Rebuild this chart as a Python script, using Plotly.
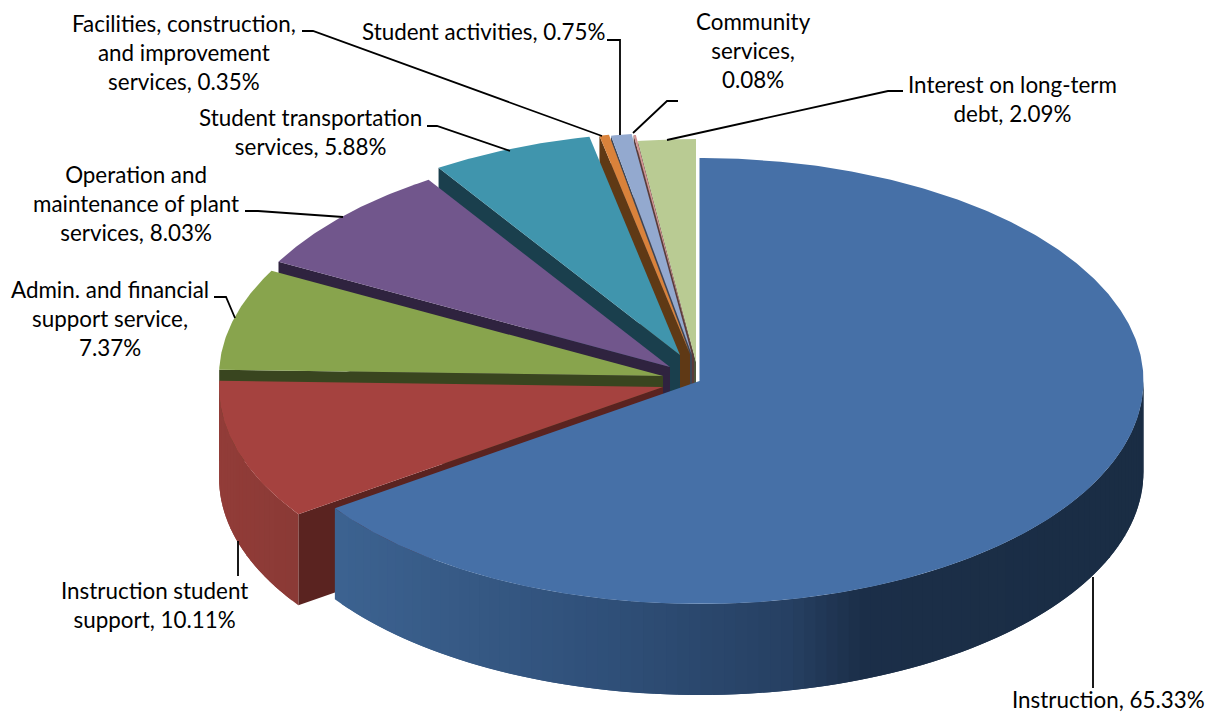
import math
import plotly.graph_objects as go

# ---- data ----
categories = ["Instruction", "Instruction student support", "Admin. and financial support service",
              "Operation and maintenance of plant services", "Student transportation services",
              "Facilities, construction, and improvement services", "Student activities",
              "Community services", "Interest on long-term debt"]
values = [65.33, 10.11, 7.37, 8.03, 5.88, 0.35, 0.75, 0.08, 2.09]
label_text = ["Instruction, 65.33%", "Instruction student<br>support, 10.11%",
              "Admin. and financial<br>support service,<br>7.37%",
              "Operation and<br>maintenance of plant<br>services, 8.03%",
              "Student transportation<br>services, 5.88%",
              "Facilities, construction,<br>and improvement<br>services, 0.35%",
              "Student activities, 0.75%", "Community<br>services,<br>0.08%",
              "Interest on long-term<br>debt, 2.09%"]

# ---- styles and layout ----
top_colors = ["#4670A7", "#A5423F", "#88A44D", "#71568C", "#4095AD", "#D9823B", "#93A9CF", "#D19392", "#B9CB93"]
edge_colors = ["#1F3552", "#5A2320", "#39451F", "#2F233F", "#1A3F4D", "#5F3915", "#3C4657", "#5A3B3A", "#4D553D"]
apex = [(699.5, 381), (663, 387), (663, 376), (670, 367), (680, 355), (690, 354), (692, 355), (694, 356), (696, 362)]
label_pos = [(1108, 699), (154, 605), (110, 318), (136, 203), (310, 132), (184, 52), (483, 31), (753, 50), (1012, 99)]
leaders = [
    [(1093, 577), (1093, 688)],
    [(238, 541), (238, 576)],
    [(214, 297), (226, 297), (235, 318)],
    [(245, 211), (258, 211), (343, 217)],
    [(427, 126), (437, 126), (510, 151)],
    [(302, 31), (313, 31), (602, 136)],
    [(607, 40), (620, 40), (620, 135)],
    [(678, 101), (667, 101), (633, 133)],
    [(903, 91), (888, 91), (667, 140)],
]
RX, RY, DEPTH = 444, 223, 91
blue_stops = [(333, (60, 98, 144)), (600, (47, 79, 120)), (780, (38, 64, 98)), (850, (27, 46, 72)), (1143, (26, 45, 68))]
red_stops = [(219, (146, 60, 56)), (299, (139, 58, 54))]


def pt(c, deg, dz=0.0):
    a = math.radians(deg)
    return c[0] + RX * math.sin(a), c[1] - RY * math.cos(a) + dz


def arc(c, a, b, dz=0.0, step=1.0):
    n = max(2, int(abs(b - a) / step) + 1)
    return [pt(c, a + (b - a) * i / (n - 1), dz) for i in range(n)]


def ramp(stops, x):
    if x <= stops[0][0]:
        return stops[0][1]
    for (x0, c0), (x1, c1) in zip(stops, stops[1:]):
        if x <= x1:
            t = (x - x0) / (x1 - x0)
            return tuple(c0[i] + (c1[i] - c0[i]) * t for i in range(3))
    return stops[-1][1]


fig = go.Figure()


def poly(points, color, line=0.0):
    xs = [p[0] for p in points] + [points[0][0]]
    ys = [p[1] for p in points] + [points[0][1]]
    fig.add_trace(go.Scatter(x=xs, y=ys, mode="lines", fill="toself", fillcolor=color,
                             line=dict(color=color, width=line), hoverinfo="skip", showlegend=False))


total = sum(values)
starts, acc = [], 0.0
for v in values:
    starts.append(acc)
    acc += v * 360 / total

# painter's order: back slices first, the big front slice last
for i in range(len(values) - 1, -1, -1):
    c = apex[i]
    a, b = starts[i], starts[i] + values[i] * 360 / total
    # cut face along the clockwise-start radius
    if i > 0:
        s = pt(c, a)
        poly([c, s, (s[0], s[1] + DEPTH), (c[0], c[1] + DEPTH)], edge_colors[i])
    # rounded outer wall, only on the front half; each band runs on under the next to hide seams
    lo, hi = max(a, 90), min(b, 270)
    if hi > lo:
        stops = blue_stops if i == 0 else red_stops
        n = int((hi - lo) / 1.5) + 1
        order = range(n) if i == 0 else range(n - 1, -1, -1)
        for k in order:
            d0 = lo + (hi - lo) * k / n
            d1 = lo + (hi - lo) * (k + 1) / n
            e0 = d0
            e1 = d1
            if i == 0:
                e0 = max(lo, d0 - 1.5)
            else:
                e1 = min(hi, d1 + 1.5)
            seg = arc(c, e0, e1, step=0.5) + arc(c, e1, e0, DEPTH, step=0.5)
            mx = (pt(c, d0)[0] + pt(c, d1)[0]) / 2
            r, g, bl = ramp(stops, mx)
            poly(seg, f"rgb({r:.0f},{g:.0f},{bl:.0f})")
    # top face
    poly([c] + arc(c, a, b, step=0.5), top_colors[i])

for path in leaders:
    fig.add_trace(go.Scatter(x=[p[0] for p in path], y=[p[1] for p in path], mode="lines",
                             line=dict(color="#000000", width=1.8), hoverinfo="skip", showlegend=False))

for text, (lx, ly) in zip(label_text, label_pos):
    fig.add_annotation(x=lx, y=ly, xref="x", yref="y", text=text, showarrow=False, xanchor="center",
                       yanchor="middle", align="center", font=dict(family="Lato", size=22.4, color="#000000"))

fig.update_layout(width=1206, height=714, margin=dict(l=0, r=0, t=0, b=0), paper_bgcolor="white",
                  plot_bgcolor="white", showlegend=False,
                  xaxis=dict(range=[0, 1206], visible=False, fixedrange=True),
                  yaxis=dict(range=[714, 0], visible=False, fixedrange=True))
fig.write_html("out.html", post_script="document.body.style.margin='0';document.body.style.overflow='hidden';",
               config={"displayModeBar": False})
